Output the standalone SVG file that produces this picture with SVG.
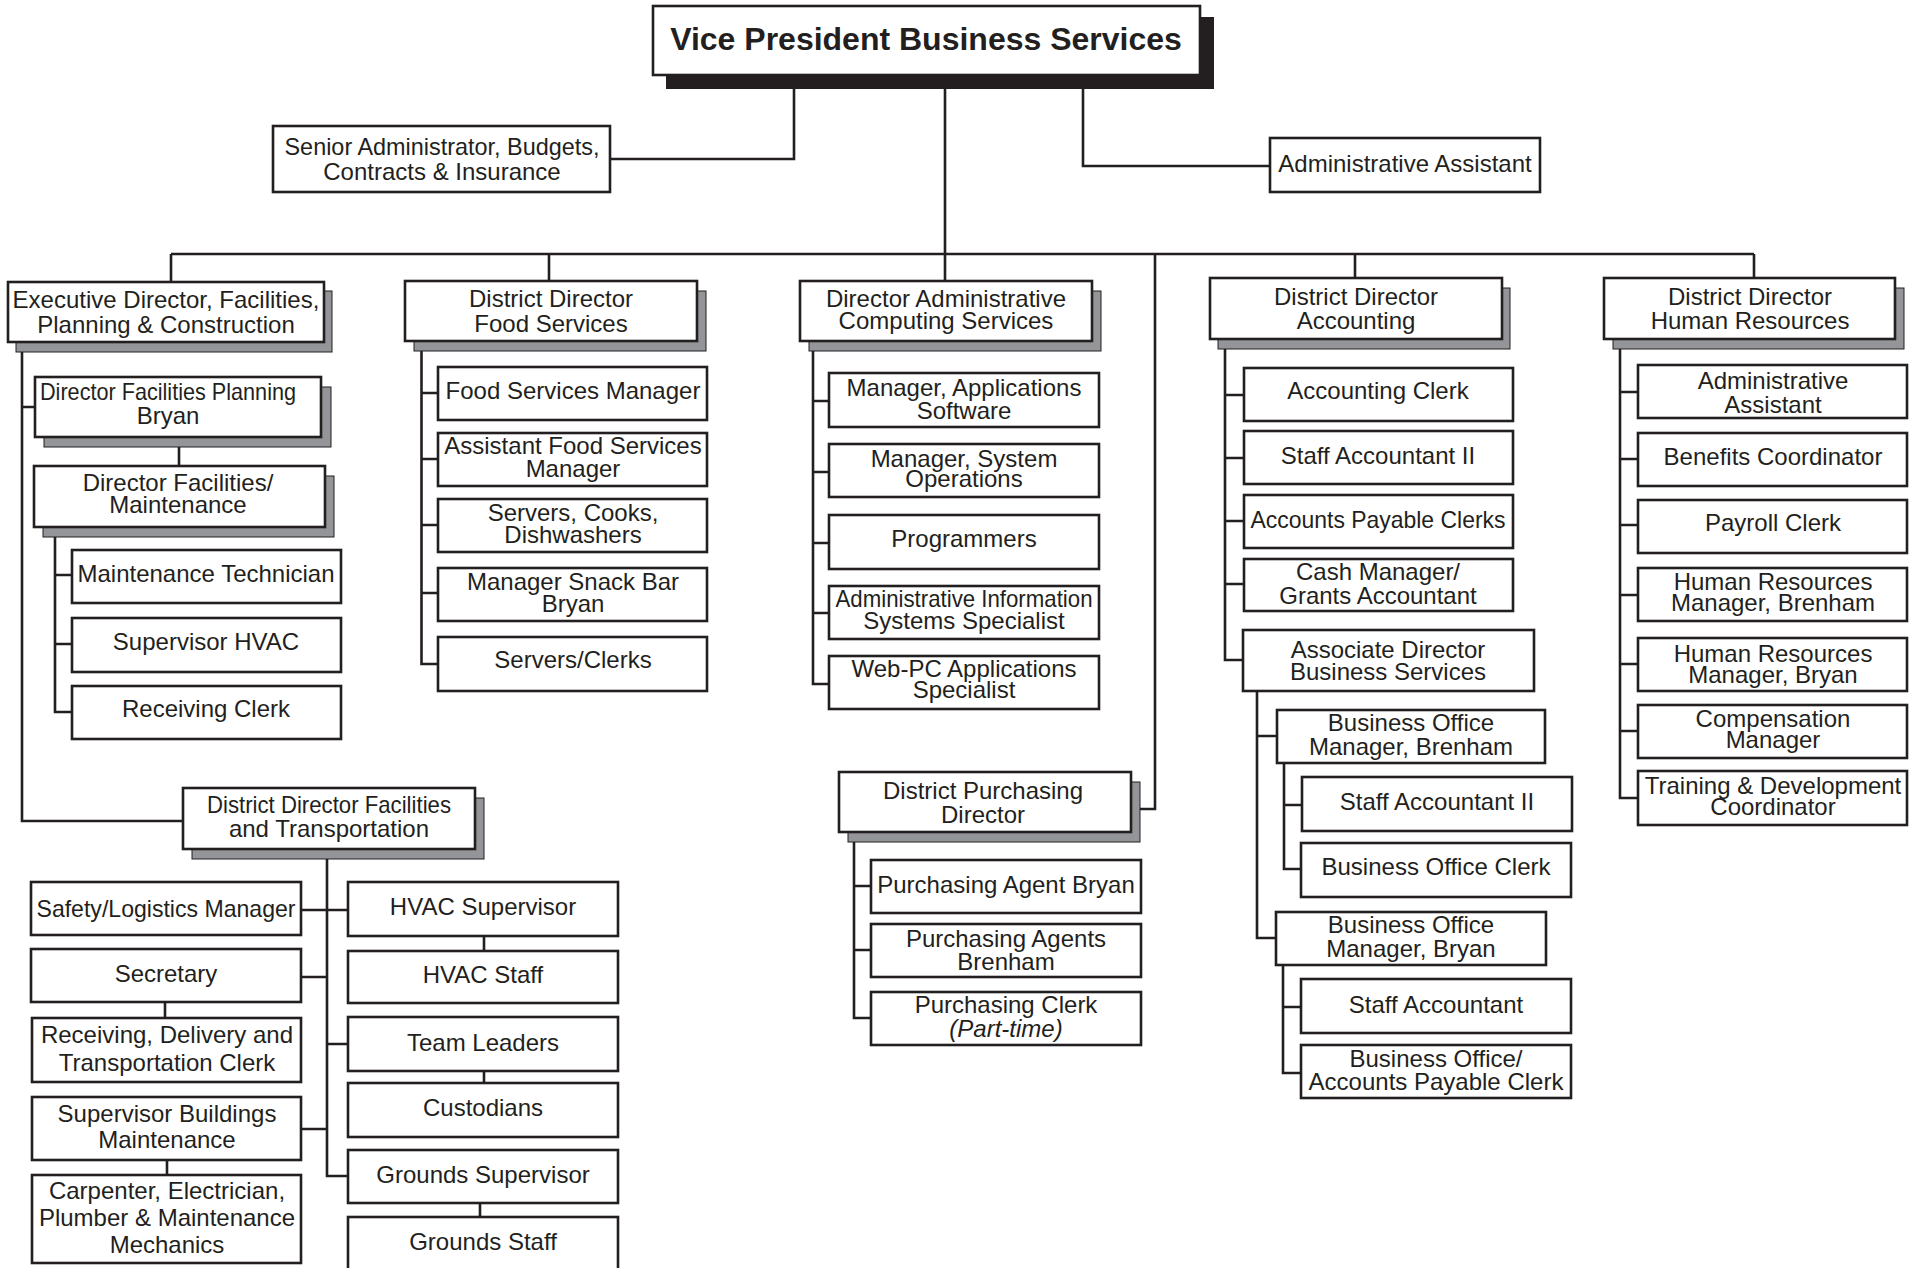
<svg xmlns="http://www.w3.org/2000/svg" width="1919" height="1268" viewBox="0 0 1919 1268">
<style>
.bx{fill:#fff;stroke:#231f20;stroke-width:2.6}
.sh{fill:#939598;stroke:#231f20;stroke-width:1}
.shb{fill:#231f20}
.c{fill:none;stroke:#231f20;stroke-width:2.6}
text{font-family:"Liberation Sans",Arial,Helvetica,sans-serif;font-size:24px;fill:#231f20;text-anchor:middle}
.title{font-size:32px;font-weight:bold}
.it{font-style:italic}
</style>
<rect width="1919" height="1268" fill="#fff"/>
<g id="connectors">
<path class="c" d="M945 76V281M794 76V159H610M1083 76V166H1270"/>
<path class="c" d="M171 254H1754M171 254V282M549 254V281M1155 254V809H1140M1355 254V278M1754 254V278"/>
<path class="c" d="M22 342V821H183M22 407H35M179 447V466M55 527V712H72M55 575H72M55 644H72"/>
<path class="c" d="M421.5 341V664H438M421.5 393H438M421.5 459H438M421.5 525H438M421.5 593H438"/>
<path class="c" d="M813 341V684H829M813 401H829M813 472H829M813 543H829M813 613H829"/>
<path class="c" d="M854 832V1018H871M854 886H871M854 950H871"/>
<path class="c" d="M1225 339V660H1243M1225 395H1244M1225 458H1244M1225 521H1244M1225 584H1244"/>
<path class="c" d="M1257 691V938H1276M1257 736H1277M1284 763V869H1301M1284 805H1302M1283 965V1073H1301M1283 1007H1301"/>
<path class="c" d="M1620 339V798H1638M1620 392H1638M1620 459H1638M1620 525H1638M1620 595H1638M1620 664H1638M1620 731H1638"/>
<path class="c" d="M327 849V1176H348M301 910H348M301 977H327M327 1044H348M301 1129H327M484 936V951M165 1002V1018M484 1071V1083M167 1160V1175M480 1203V1217"/>
</g>
<g id="vp">
<rect class="shb" x="666" y="17" width="548" height="72"/>
<rect class="bx" x="653" y="6" width="547" height="69"/>
<text class="title" x="926" y="50">Vice President Business Services</text>
</g>
<g id="senior-admin">
<rect class="bx" x="273" y="126" width="337" height="66"/>
<text x="442" y="155" textLength="315" lengthAdjust="spacingAndGlyphs">Senior Administrator, Budgets,</text>
<text x="442" y="180">Contracts &amp; Insurance</text>
</g>
<g id="admin-assistant">
<rect class="bx" x="1270" y="138" width="270" height="54"/>
<text x="1405" y="172">Administrative Assistant</text>
</g>
<g id="exec-director">
<rect class="sh" x="16" y="291" width="316" height="61"/>
<rect class="bx" x="8" y="282" width="316" height="60"/>
<text x="166" y="308">Executive Director, Facilities,</text>
<text x="166" y="333">Planning &amp; Construction</text>
</g>
<g id="dir-fac-planning">
<rect class="sh" x="44" y="387" width="287" height="60"/>
<rect class="bx" x="35" y="377" width="286" height="60"/>
<text x="168" y="400" textLength="256" lengthAdjust="spacingAndGlyphs">Director Facilities Planning</text>
<text x="168" y="424">Bryan</text>
</g>
<g id="dir-fac-maint">
<rect class="sh" x="43" y="476" width="291" height="61"/>
<rect class="bx" x="34" y="466" width="291" height="61"/>
<text x="178" y="491">Director Facilities/</text>
<text x="178" y="513">Maintenance</text>
</g>
<g id="maint-tech">
<rect class="bx" x="72" y="550" width="269" height="53"/>
<text x="206" y="582">Maintenance Technician</text>
</g>
<g id="supervisor-hvac">
<rect class="bx" x="72" y="618" width="269" height="54"/>
<text x="206" y="650">Supervisor HVAC</text>
</g>
<g id="receiving-clerk">
<rect class="bx" x="72" y="686" width="269" height="53"/>
<text x="206" y="717">Receiving Clerk</text>
</g>
<g id="dd-fac-trans">
<rect class="sh" x="192" y="798" width="292" height="61"/>
<rect class="bx" x="183" y="788" width="292" height="61"/>
<text x="329" y="813" textLength="244" lengthAdjust="spacingAndGlyphs">District Director Facilities</text>
<text x="329" y="837">and Transportation</text>
</g>
<g id="safety">
<rect class="bx" x="31" y="882" width="270" height="53"/>
<text x="166" y="917" textLength="259" lengthAdjust="spacingAndGlyphs">Safety/Logistics Manager</text>
</g>
<g id="secretary">
<rect class="bx" x="31" y="949" width="270" height="53"/>
<text x="166" y="982">Secretary</text>
</g>
<g id="receiving-delivery">
<rect class="bx" x="32" y="1018" width="269" height="64"/>
<text x="167" y="1043">Receiving, Delivery and</text>
<text x="167" y="1071">Transportation Clerk</text>
</g>
<g id="sup-buildings">
<rect class="bx" x="32" y="1097" width="269" height="63"/>
<text x="167" y="1122">Supervisor Buildings</text>
<text x="167" y="1148">Maintenance</text>
</g>
<g id="carpenter">
<rect class="bx" x="32" y="1175" width="269" height="88"/>
<text x="167" y="1199">Carpenter, Electrician,</text>
<text x="167" y="1226">Plumber &amp; Maintenance</text>
<text x="167" y="1253">Mechanics</text>
</g>
<g id="hvac-supervisor">
<rect class="bx" x="348" y="882" width="270" height="54"/>
<text x="483" y="915">HVAC Supervisor</text>
</g>
<g id="hvac-staff">
<rect class="bx" x="348" y="951" width="270" height="52"/>
<text x="483" y="983">HVAC Staff</text>
</g>
<g id="team-leaders">
<rect class="bx" x="348" y="1017" width="270" height="54"/>
<text x="483" y="1051">Team Leaders</text>
</g>
<g id="custodians">
<rect class="bx" x="348" y="1083" width="270" height="54"/>
<text x="483" y="1116">Custodians</text>
</g>
<g id="grounds-supervisor">
<rect class="bx" x="348" y="1150" width="270" height="53"/>
<text x="483" y="1183">Grounds Supervisor</text>
</g>
<g id="grounds-staff">
<rect class="bx" x="348" y="1217" width="270" height="60"/>
<text x="483" y="1250">Grounds Staff</text>
</g>
<g id="dd-food">
<rect class="sh" x="414" y="291" width="292" height="60"/>
<rect class="bx" x="405" y="281" width="292" height="60"/>
<text x="551" y="307">District Director</text>
<text x="551" y="332">Food Services</text>
</g>
<g id="food-manager">
<rect class="bx" x="438" y="367" width="269" height="53"/>
<text x="573" y="399">Food Services Manager</text>
</g>
<g id="asst-food-manager">
<rect class="bx" x="438" y="433" width="269" height="53"/>
<text x="573" y="454">Assistant Food Services</text>
<text x="573" y="477">Manager</text>
</g>
<g id="servers-cooks">
<rect class="bx" x="438" y="499" width="269" height="53"/>
<text x="573" y="521">Servers, Cooks,</text>
<text x="573" y="543">Dishwashers</text>
</g>
<g id="snack-bar">
<rect class="bx" x="438" y="568" width="269" height="53"/>
<text x="573" y="590">Manager Snack Bar</text>
<text x="573" y="612">Bryan</text>
</g>
<g id="servers-clerks">
<rect class="bx" x="438" y="637" width="269" height="54"/>
<text x="573" y="668">Servers/Clerks</text>
</g>
<g id="dir-admin-computing">
<rect class="sh" x="809" y="291" width="292" height="60"/>
<rect class="bx" x="800" y="281" width="292" height="60"/>
<text x="946" y="307">Director Administrative</text>
<text x="946" y="329">Computing Services</text>
</g>
<g id="mgr-app-software">
<rect class="bx" x="829" y="373" width="270" height="54"/>
<text x="964" y="396">Manager, Applications</text>
<text x="964" y="419">Software</text>
</g>
<g id="mgr-sys-ops">
<rect class="bx" x="829" y="444" width="270" height="53"/>
<text x="964" y="467">Manager, System</text>
<text x="964" y="487">Operations</text>
</g>
<g id="programmers">
<rect class="bx" x="829" y="515" width="270" height="54"/>
<text x="964" y="547">Programmers</text>
</g>
<g id="ais-specialist">
<rect class="bx" x="829" y="586" width="270" height="53"/>
<text x="964" y="607" textLength="257" lengthAdjust="spacingAndGlyphs">Administrative Information</text>
<text x="964" y="629">Systems Specialist</text>
</g>
<g id="webpc">
<rect class="bx" x="829" y="656" width="270" height="53"/>
<text x="964" y="677">Web-PC Applications</text>
<text x="964" y="698">Specialist</text>
</g>
<g id="purchasing-director">
<rect class="sh" x="848" y="782" width="292" height="60"/>
<rect class="bx" x="839" y="772" width="292" height="60"/>
<text x="983" y="799">District Purchasing</text>
<text x="983" y="823">Director</text>
</g>
<g id="purchasing-agent-bryan">
<rect class="bx" x="871" y="860" width="270" height="53"/>
<text x="1006" y="893">Purchasing Agent Bryan</text>
</g>
<g id="purchasing-agents-brenham">
<rect class="bx" x="871" y="924" width="270" height="53"/>
<text x="1006" y="947">Purchasing Agents</text>
<text x="1006" y="970">Brenham</text>
</g>
<g id="purchasing-clerk">
<rect class="bx" x="871" y="992" width="270" height="53"/>
<text x="1006" y="1013">Purchasing Clerk</text>
<text class="it" x="1006" y="1037">(Part-time)</text>
</g>
<g id="dd-accounting">
<rect class="sh" x="1218" y="288" width="292" height="61"/>
<rect class="bx" x="1210" y="278" width="292" height="61"/>
<text x="1356" y="305">District Director</text>
<text x="1356" y="329">Accounting</text>
</g>
<g id="accounting-clerk">
<rect class="bx" x="1244" y="368" width="269" height="53"/>
<text x="1378" y="399">Accounting Clerk</text>
</g>
<g id="staff-accountant-2">
<rect class="bx" x="1244" y="431" width="269" height="53"/>
<text x="1378" y="464">Staff Accountant II</text>
</g>
<g id="ap-clerks">
<rect class="bx" x="1244" y="495" width="269" height="53"/>
<text x="1378" y="528" textLength="255" lengthAdjust="spacingAndGlyphs">Accounts Payable Clerks</text>
</g>
<g id="cash-manager">
<rect class="bx" x="1244" y="559" width="269" height="52"/>
<text x="1378" y="580">Cash Manager/</text>
<text x="1378" y="604">Grants Accountant</text>
</g>
<g id="assoc-director">
<rect class="bx" x="1243" y="630" width="291" height="61"/>
<text x="1388" y="658">Associate Director</text>
<text x="1388" y="680">Business Services</text>
</g>
<g id="bom-brenham">
<rect class="bx" x="1277" y="710" width="268" height="53"/>
<text x="1411" y="731">Business Office</text>
<text x="1411" y="755">Manager, Brenham</text>
</g>
<g id="staff-accountant-2b">
<rect class="bx" x="1302" y="777" width="270" height="54"/>
<text x="1437" y="810">Staff Accountant II</text>
</g>
<g id="bo-clerk">
<rect class="bx" x="1301" y="843" width="270" height="54"/>
<text x="1436" y="875">Business Office Clerk</text>
</g>
<g id="bom-bryan">
<rect class="bx" x="1276" y="912" width="270" height="53"/>
<text x="1411" y="933">Business Office</text>
<text x="1411" y="957">Manager, Bryan</text>
</g>
<g id="staff-accountant">
<rect class="bx" x="1301" y="979" width="270" height="54"/>
<text x="1436" y="1013">Staff Accountant</text>
</g>
<g id="bo-ap-clerk">
<rect class="bx" x="1301" y="1045" width="270" height="53"/>
<text x="1436" y="1067">Business Office/</text>
<text x="1436" y="1090">Accounts Payable Clerk</text>
</g>
<g id="dd-hr">
<rect class="sh" x="1613" y="288" width="291" height="61"/>
<rect class="bx" x="1604" y="278" width="291" height="61"/>
<text x="1750" y="305">District Director</text>
<text x="1750" y="329">Human Resources</text>
</g>
<g id="hr-admin-assistant">
<rect class="bx" x="1638" y="365" width="269" height="53"/>
<text x="1773" y="389">Administrative</text>
<text x="1773" y="413">Assistant</text>
</g>
<g id="benefits">
<rect class="bx" x="1638" y="433" width="269" height="53"/>
<text x="1773" y="465">Benefits Coordinator</text>
</g>
<g id="payroll">
<rect class="bx" x="1638" y="500" width="269" height="53"/>
<text x="1773" y="531">Payroll Clerk</text>
</g>
<g id="hr-brenham">
<rect class="bx" x="1638" y="568" width="269" height="53"/>
<text x="1773" y="590">Human Resources</text>
<text x="1773" y="611">Manager, Brenham</text>
</g>
<g id="hr-bryan">
<rect class="bx" x="1638" y="638" width="269" height="53"/>
<text x="1773" y="662">Human Resources</text>
<text x="1773" y="683">Manager, Bryan</text>
</g>
<g id="compensation">
<rect class="bx" x="1638" y="705" width="269" height="53"/>
<text x="1773" y="727">Compensation</text>
<text x="1773" y="748">Manager</text>
</g>
<g id="training">
<rect class="bx" x="1638" y="771" width="269" height="54"/>
<text x="1773" y="794">Training &amp; Development</text>
<text x="1773" y="815">Coordinator</text>
</g>
</svg>
